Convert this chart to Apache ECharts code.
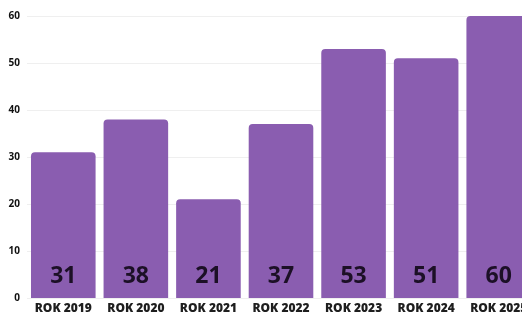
<!DOCTYPE html>
<html>
<head>
<meta charset="utf-8">
<script src="https://cdn.jsdelivr.net/npm/echarts@6/dist/echarts.min.js"></script>
<style>
html, body { margin: 0; padding: 0; background: #fff; }
#chart { width: 522px; height: 313px; }
</style>
</head>
<body>
<div id="chart"></div>
<script>
// dane wykresu
var years = ['ROK 2019', 'ROK 2020', 'ROK 2021', 'ROK 2022', 'ROK 2023', 'ROK 2024', 'ROK 2025'];
var values = [31, 38, 21, 37, 53, 51, 60];

var myChart = echarts.init(document.getElementById('chart'));
var option = {
    animation: false,
    grid: {
        left: 27,
        width: 508,
        top: 16,
        bottom: 15,
        outerBoundsMode: 'none'
    },
    xAxis: {
        type: 'category',
        data: years,
        axisLine: { show: false },
        axisTick: { show: false },
        axisLabel: {
            margin: 5,
            color: '#1e1e1e',
            fontFamily: 'Open Sans',
            fontWeight: 800,
            fontSize: 12,
            interval: 0
        }
    },
    yAxis: {
        type: 'value',
        min: 0,
        max: 60,
        interval: 10,
        axisLabel: {
            margin: 7,
            color: '#111',
            fontFamily: 'Open Sans',
            fontWeight: 'bold',
            fontSize: 10
        },
        splitLine: { lineStyle: { color: '#efefef', width: 1 } }
    },
    series: [
        {
            type: 'bar',
            data: values,
            barCategoryGap: '11%',
            itemStyle: {
                color: '#8a5db0',
                borderRadius: [4, 4, 0, 0]
            },
            label: {
                show: true,
                position: 'insideBottom',
                distance: 10,
                color: '#1c1026',
                fontFamily: 'Open Sans',
                fontWeight: 'bold',
                fontSize: 23
            }
        }
    ]
};
myChart.setOption(option);
</script>
</body>
</html>
